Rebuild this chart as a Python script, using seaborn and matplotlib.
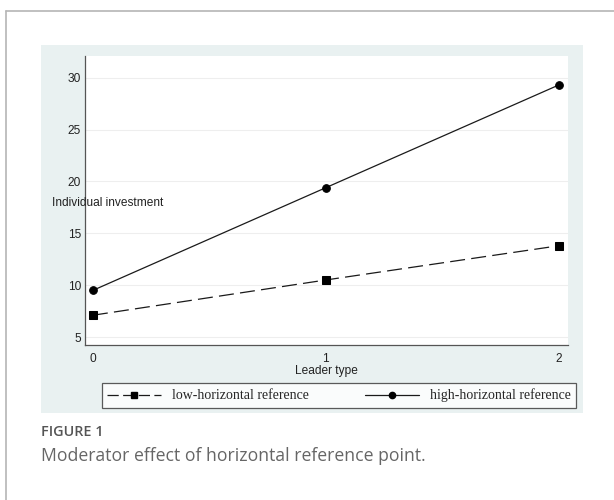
import pandas as pd
import matplotlib.pyplot as plt
import seaborn as sns
from matplotlib.patches import Rectangle
from matplotlib.lines import Line2D

# data
leader_type = [0, 1, 2]
low_horizontal = [7.1, 10.5, 13.8]
high_horizontal = [9.5, 19.4, 29.3]
y_ticks = [5, 10, 15, 20, 25, 30]

df = pd.DataFrame({
    'leader': leader_type * 2,
    'investment': low_horizontal + high_horizontal,
    'group': ['low'] * 3 + ['high'] * 3,
})

sns.set_style("white")
plt.rcParams['font.family'] = ['Liberation Sans', 'DejaVu Sans']

fig = plt.figure(figsize=(6.14, 5.0), dpi=100)

# page frame
fig.add_artist(Line2D([6/614, 6/614], [0, 1 - 11/500], color='#b5b5b5', lw=1.2))
fig.add_artist(Line2D([6/614, 1], [1 - 11/500, 1 - 11/500], color='#b5b5b5', lw=1.2))

# stata-like graph region
fig.add_artist(Rectangle((41/614, 1 - 413/500), 542/614, 368/500,
                         facecolor='#e9f1f1', edgecolor='none', zorder=0))

ax = fig.add_axes([85/614, 1 - 345/500, 483/614, 289/500])
ax.set_facecolor('white')

low = df[df['group'] == 'low']
high = df[df['group'] == 'high']
sns.lineplot(data=low, x='leader', y='investment', ax=ax, color='#1a1a1a',
             lw=0.9, marker='s', markersize=6, markeredgecolor='black',
             markerfacecolor='black')
ax.lines[-1].set_dashes([12, 5])
sns.lineplot(data=high, x='leader', y='investment', ax=ax, color='#1a1a1a',
             lw=0.9, marker='o', markersize=5.5, markeredgecolor='black',
             markerfacecolor='black')

ax.set_xlim(-0.034, 2.04)
ax.set_ylim(4.23, 32.1)
ax.set_xticks(leader_type)
ax.set_yticks(y_ticks)
ax.grid(axis='y', color='#eeeeee', lw=0.8)
ax.grid(axis='x', visible=False)
for s in ['top', 'right']:
    ax.spines[s].set_visible(False)
for s in ['left', 'bottom']:
    ax.spines[s].set_color('#555555')
    ax.spines[s].set_linewidth(0.9)
ax.tick_params(axis='both', direction='in', length=3, width=0.8,
               color='#555555', labelsize=8.6, labelcolor='#222222')
ax.tick_params(axis='y', pad=3)
ax.tick_params(axis='x', pad=6)
ax.set_xlabel('Leader type', fontsize=8.6, color='#222222', labelpad=0)
ax.set_ylabel('')
fig.text(52/614, 1 - 203/500, 'Individual investment', fontsize=8.6,
         color='#222222', va='center', ha='left')

# legend
handles = [
    Line2D([], [], color='#1a1a1a', lw=0.9, dashes=[9, 3.5], marker='s',
           markersize=5, markerfacecolor='black', markeredgecolor='black'),
    Line2D([], [], color='#1a1a1a', lw=0.9, marker='o', markersize=4.5,
           markerfacecolor='black', markeredgecolor='black'),
]
leg = fig.legend(handles, ['low-horizontal reference', 'high-horizontal reference'],
                 loc='center', bbox_to_anchor=(339/614, 1 - 395.5/500), ncol=2,
                 frameon=True, fancybox=False, edgecolor='#333333',
                 prop={'family': 'Liberation Serif', 'size': 10},
                 handlelength=3.9, columnspacing=4.0, borderpad=0.4,
                 handletextpad=0.8, borderaxespad=0)
leg.get_frame().set_linewidth(0.9)
leg.get_frame().set_facecolor('white')

# caption
fig.text(41/614, 1 - 432/500, 'FIGURE 1', fontsize=10.4, color='#555555',
         family='Open Sans', fontweight='semibold', va='center')
fig.text(41/614, 1 - 456/500, 'Moderator effect of horizontal reference point.',
         fontsize=12.7, color='#666666', family='Open Sans', va='center')

plt.savefig('out.png', dpi=100)
